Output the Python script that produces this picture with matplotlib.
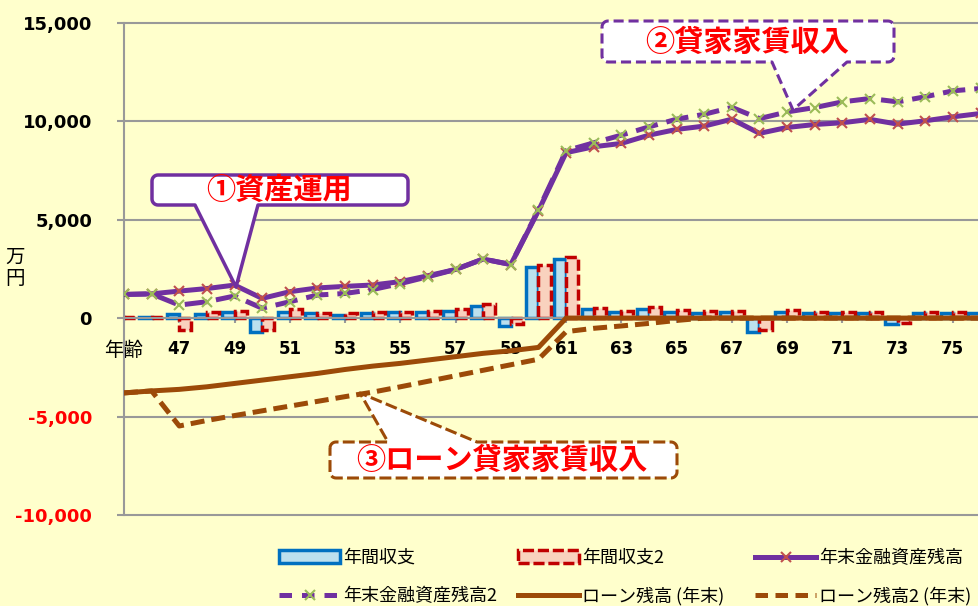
import matplotlib
matplotlib.use('Agg')
import matplotlib.pyplot as plt
import numpy as np
from matplotlib.patches import Polygon, Patch
from matplotlib.lines import Line2D
from matplotlib.font_manager import FontProperties

# ---------------- data ----------------
ages = list(range(45, 77))
tick_labels = ["年齢", "47", "49", "51", "53", "55", "57", "59", "61",
               "63", "65", "67", "69", "71", "73", "75"]
annual = [30, 30, 200, 220, 330, -700, 330, 280, 150, 250, 300, 300, 370, 630, -380,
          2600, 3000, 450, 300, 480, 330, 280, 300, -700, 320, 280, 280, 280, -280,
          280, 280, 280]
annual2 = [30, 50, -600, 300, 370, -600, 450, 250, 250, 300, 300, 370, 450, 720, -300,
           2700, 3100, 520, 350, 560, 400, 350, 380, -600, 390, 330, 330, 330, -230,
           330, 330, 330]
asset = [1200, 1230, 1370, 1500, 1675, 1000, 1340, 1530, 1610, 1680, 1850, 2150, 2470,
         3000, 2720, 5450, 8400, 8700, 8870, 9290, 9580, 9750, 10100, 9380, 9680, 9830,
         9920, 10090, 9850, 10020, 10220, 10390]
asset2 = [1200, 1230, 660, 830, 1120, 500, 830, 1170, 1250, 1450, 1750, 2100, 2470,
          3000, 2720, 5500, 8500, 8900, 9290, 9710, 10100, 10350, 10700, 10130, 10470,
          10690, 10980, 11150, 10980, 11240, 11540, 11660]
loan = [-3800, -3700, -3620, -3490, -3320, -3150, -2980, -2810, -2610, -2440, -2300,
        -2130, -1960, -1790, -1660, -1490, 0, 0, 0, 0, 0, 0, 0, 0, 0, 0, 0, 0, 0, 0, 0, 0]
loan2 = [-3800, -3700, -5480, -5200, -4950, -4710, -4470, -4230, -3990, -3760, -3490,
         -3210, -2930, -2650, -2370, -2090, -690, -520, -400, -270, -120, 0, 0, 0, 0, 0,
         0, 0, 0, 0, 0, 0]
legend_labels = ["年間収支", "年間収支2", "年末金融資産残高",
                 "年末金融資産残高2", "ローン残高 (年末)", "ローン残高2 (年末)"]
callout_texts = ["①資産運用", "②貸家家賃収入", "③ローン貸家家賃収入"]
ytick_vals = [-10000, -5000, 0, 5000, 10000, 15000]
ytick_labels = ["-10,000", "-5,000", "0", "5,000", "10,000", "15,000"]

# ---------------- style ----------------
BG = '#FFFFCC'
GRID = '#999999'
PURPLE = '#7030A0'
BROWN = '#9C4A08'
BLUE_E, BLUE_F = '#0070C0', '#BCE0EE'
RED_E, RED_F = '#C00000', '#F9D2BE'
CJK = ['Noto Sans CJK JP', 'DejaVu Sans']

W, H = 979, 606
fig = plt.figure(figsize=(W / 100, H / 100), dpi=100, facecolor=BG)

ppu = (515 - 22.7) / 25000.0
top_px = 22.7 - 150 * ppu
bot_px = 515 + 150 * ppu
ax = fig.add_axes([124 / W, 1 - bot_px / H, (979 - 124) / W, (bot_px - top_px) / H])
ax.set_facecolor(BG)

x = np.arange(len(ages))
bw = 0.44
ax.bar(x - bw / 2, annual, width=bw, color=BLUE_F, edgecolor=BLUE_E, linewidth=2.5, zorder=2)
ax.bar(x + bw / 2, annual2, width=bw, color=RED_F, edgecolor=RED_E, linewidth=2.5,
       linestyle=(0, (3.2, 1.1)), zorder=2)

ax.plot(x, asset, color=PURPLE, lw=3.6, marker='x', ms=7, mec='#C0504D', mew=1.5, zorder=4)
ax.plot(x, asset2, color=PURPLE, lw=3.6, ls=(0, (4.5, 1.8)), marker='x', ms=7,
        mec='#9BBB59', mew=1.5, zorder=4)
ax.plot(x, loan, color=BROWN, lw=3.6, zorder=5)
ax.plot(x, loan2, color=BROWN, lw=3.6, ls=(0, (2.8, 1.4)), zorder=5)

ax.set_xlim(0, (979 - 124) / 27.63)
ax.set_ylim(-10150, 15150)

for s in ['top', 'right']:
    ax.spines[s].set_visible(False)
ax.spines['left'].set_bounds(-10000, 15000)
ax.spines['left'].set_color(GRID)
ax.spines['left'].set_linewidth(1.5)
ax.spines['bottom'].set_position(('data', 0))
ax.spines['bottom'].set_color(GRID)
ax.spines['bottom'].set_linewidth(1.5)

ax.set_yticks(ytick_vals)
ax.set_yticklabels(ytick_labels)
for lab, v in zip(ax.get_yticklabels(), ytick_vals):
    lab.set_fontfamily('DejaVu Sans')
    lab.set_fontweight('bold')
    lab.set_fontsize(13)
    lab.set_color('#FF0000' if v < 0 else 'black')
ax.tick_params(axis='y', direction='out', length=5, width=1.5, color=GRID, pad=18)
ax.grid(axis='y', color=GRID, lw=1.5)
ax.set_axisbelow(True)

ax.set_xticks(np.arange(0, 31, 2))
ax.set_xticklabels(tick_labels)
for i, lab in enumerate(ax.get_xticklabels()):
    if i == 0:
        lab.set_fontfamily(CJK)
        lab.set_fontsize(14)
    else:
        lab.set_fontfamily('DejaVu Sans')
        lab.set_fontweight('bold')
        lab.set_fontsize(12)
ax.tick_params(axis='x', direction='out', length=3.5, width=1.5, color=GRID, pad=12)

fig.text(15 / W, 1 - 268 / H, "万\n円", ha='center', va='center', fontsize=14,
         family=CJK, linespacing=1.05)

# ---------------- legend ----------------
handles = [
    Patch(facecolor=BLUE_F, edgecolor=BLUE_E, linewidth=2.5),
    Patch(facecolor=RED_F, edgecolor=RED_E, linewidth=2.5, linestyle=(0, (3.2, 1.1))),
    Line2D([], [], color=PURPLE, lw=3.6, marker='x', ms=7, mec='#C0504D', mew=1.5),
    Line2D([], [], color=PURPLE, lw=3.6, ls=(0, (2.5, 2.0)), marker='x', ms=7,
           mec='#9BBB59', mew=1.5),
    Line2D([], [], color=BROWN, lw=3.6),
    Line2D([], [], color=BROWN, lw=3.6, ls=(0, (2.5, 1.5))),
]
pos = [(279, 558), (518, 558), (755, 558), (279, 596), (518, 596), (755, 596)]
lfont = FontProperties(family=CJK, size=13)
for h, l, (px, py) in zip(handles, legend_labels, pos):
    fig.legend(handles=[h], labels=[l], loc='center left',
               bbox_to_anchor=(px / W, 1 - py / H), bbox_transform=fig.transFigure,
               frameon=False, borderpad=0, borderaxespad=0, handlelength=3.4,
               handletextpad=0.15, prop=lfont, numpoints=1)

# ---------------- callouts ----------------
def callout_pts(x0, y0, x1, y1, r, side, ba, bb, tip):
    pts = []

    def arc(cx, cy, a0, a1):
        for t in np.linspace(a0, a1, 8):
            pts.append((cx + r * np.cos(t), cy + r * np.sin(t)))
    arc(x0 + r, y0 + r, np.pi, 1.5 * np.pi)
    if side == 'top':
        pts += [(ba, y0), tip, (bb, y0)]
    arc(x1 - r, y0 + r, 1.5 * np.pi, 2 * np.pi)
    arc(x1 - r, y1 - r, 0, 0.5 * np.pi)
    if side == 'bottom':
        pts += [(bb, y1), tip, (ba, y1)]
    arc(x0 + r, y1 - r, 0.5 * np.pi, np.pi)
    return [(px / W, 1 - py / H) for px, py in pts]

cfont = FontProperties(family=CJK, size=21, weight='bold')
callouts = [
    dict(box=(152, 175, 408, 205), side='bottom', ba=195, bb=258, tip=(236, 287),
         ec=PURPLE, lw=2.5, ls='-', txt=(279, 190)),
    dict(box=(602, 21, 894, 62), side='bottom', ba=772, bb=847, tip=(793, 110),
         ec=PURPLE, lw=2.2, ls=(0, (3.3, 1.6)), txt=(747, 42)),
    dict(box=(330, 442, 677, 478), side='top', ba=388, bb=477, tip=(360, 393),
         ec=BROWN, lw=2.2, ls=(0, (3.9, 1.4)), txt=(502, 460)),
]
for c, t in zip(callouts, callout_texts):
    x0, y0, x1, y1 = c['box']
    pts = callout_pts(x0, y0, x1, y1, 6, c['side'], c['ba'], c['bb'], c['tip'])
    poly = Polygon(pts, closed=True, facecolor='white', edgecolor=c['ec'],
                   linewidth=c['lw'], linestyle=c['ls'], transform=fig.transFigure,
                   zorder=10, joinstyle='round')
    fig.add_artist(poly)
    fig.text(c['txt'][0] / W, 1 - c['txt'][1] / H, t, ha='center', va='center',
             fontproperties=cfont, color='#FF0000', zorder=11)

fig.savefig('out.png', dpi=100, facecolor=BG)
